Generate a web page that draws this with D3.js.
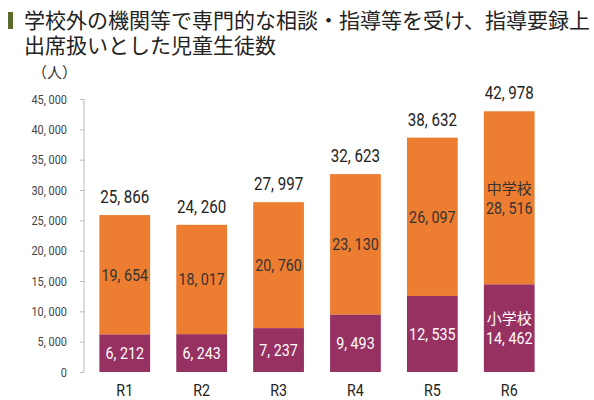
<!DOCTYPE html>
<html><head><meta charset="utf-8">
<script src="https://cdn.jsdelivr.net/npm/d3@7"></script>
<style>
body{margin:0;background:#fff;}
svg{display:block;}
</style></head>
<body>
<svg id="c" width="594" height="400"></svg>
<script>
const categories = ["R1","R2","R3","R4","R5","R6"];
const elementary = [6212, 6243, 7237, 9493, 12535, 14462];
const juniorHigh = [19654, 18017, 20760, 23130, 26097, 28516];
const totals = [25866, 24260, 27997, 32623, 38632, 42978];
const yTicks = [0,5000,10000,15000,20000,25000,30000,35000,40000,45000];
const titleLines = ["学校外の機関等で専門的な相談・指導等を受け、指導要録上","出席扱いとした児童生徒数"];
const unitLabel = "（人）";
const seriesNames = ["小学校","中学校"];

const svg = d3.select("#c");
const numFont = "Roboto,'Noto Sans',sans-serif";
const cjk = "'Noto Sans CJK JP','Noto Sans',sans-serif";
const fmt = v => d3.format(",")(v).replace(",", ", ");
const SX = 0.84;

const x = d3.scaleBand().domain(categories).range([84, 550]).paddingInner(0.34).paddingOuter(0.2);
const y = d3.scaleLinear().domain([0,45000]).range([372, 99]);

function ntext(parent, px, py, str, size, fill, anchor){
  return parent.append("text")
    .attr("transform",`translate(${px},${py}) scale(${SX},1)`)
    .attr("text-anchor",anchor||"middle")
    .attr("font-family",numFont).attr("font-size",size).attr("fill",fill).text(str);
}

// title
svg.append("rect").attr("x",8).attr("y",12).attr("width",5).attr("height",17).attr("fill","#5b6b2a");
const title = svg.append("text").attr("font-family",cjk).attr("font-size",21).attr("fill","#222");
title.selectAll("tspan").data(titleLines).join("tspan")
  .attr("x",24).attr("y",(d,i)=>28+i*25).text(d=>d);

svg.append("text").attr("x",32).attr("y",78).attr("font-family",cjk).attr("font-size",15).attr("fill","#333").text(unitLabel);

// axis
const ax = svg.append("g").attr("transform","translate(84,0)")
  .call(d3.axisLeft(y).tickValues(yTicks).tickFormat(fmt).tickSize(4).tickPadding(13));
ax.select(".domain").attr("stroke","#bbb").attr("d","M0,99V372");
ax.selectAll(".tick line").attr("stroke","#bbb");
ax.selectAll(".tick text").attr("font-family",numFont).attr("font-size",13).attr("fill","#444")
  .attr("transform",`scale(${SX},1)`).attr("x",-17/SX);

const data = categories.map((c,i)=>({c, e:elementary[i], j:juniorHigh[i], t:totals[i]}));

const g = svg.append("g");
g.selectAll("rect.e").data(data).join("rect").attr("class","e")
  .attr("x",d=>x(d.c)).attr("width",x.bandwidth())
  .attr("y",d=>y(d.e)).attr("height",d=>y(0)-y(d.e)).attr("fill","#973162");
g.selectAll("rect.j").data(data).join("rect").attr("class","j")
  .attr("x",d=>x(d.c)).attr("width",x.bandwidth())
  .attr("y",d=>y(d.e+d.j)).attr("height",d=>y(d.e)-y(d.e+d.j)).attr("fill","#ED7D31");

const cx = d => x(d.c)+x.bandwidth()/2;
data.forEach((d,i)=>{
  const last = i===data.length-1;
  const jm = (y(d.e)+y(d.e+d.j))/2, em = (y(0)+y(d.e))/2;
  ntext(g, cx(d), y(d.t)-12, fmt(d.t), 18, "#222");
  if(last){
    g.append("text").attr("x",cx(d)).attr("y",jm-4).attr("text-anchor","middle").attr("font-family",cjk).attr("font-size",15).attr("fill","#333").text(seriesNames[1]);
    ntext(g, cx(d), jm+16, fmt(d.j), 17, "#333");
    g.append("text").attr("x",cx(d)).attr("y",em-4).attr("text-anchor","middle").attr("font-family",cjk).attr("font-size",15).attr("fill","#fff").text(seriesNames[0]);
    ntext(g, cx(d), em+16, fmt(d.e), 17, "#fff");
  } else {
    ntext(g, cx(d), jm+6, fmt(d.j), 17, "#333");
    ntext(g, cx(d), em+6, fmt(d.e), 17, "#fff");
  }
  ntext(g, cx(d), 396, d.c, 17, "#222");
});
</script>
</body></html>
